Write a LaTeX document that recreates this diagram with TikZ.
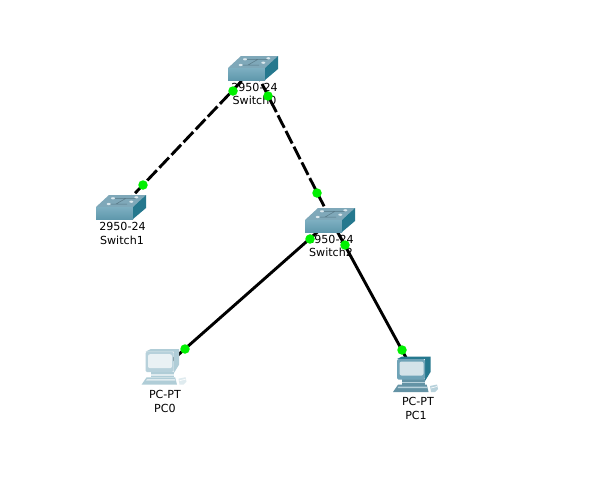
\documentclass[tikz,border=0pt]{standalone}
\usepackage{fontspec}
\setmainfont{DejaVu Sans}
\definecolor{swtop}{HTML}{7FA8B9}
\definecolor{swfronta}{HTML}{7DAFC1}
\definecolor{swfrontb}{HTML}{5F98AC}
\definecolor{swfront}{HTML}{6FA3B7}
\definecolor{swside}{HTML}{25788E}
\definecolor{swled}{HTML}{DCE9EE}
\definecolor{linkgreen}{HTML}{00F000}
\tikzset{
  anchorpt/.style={inner sep=0pt,minimum size=0pt},
  devlabel/.style={font=\fontsize{11.1}{13}\selectfont,text=black,inner sep=0pt,align=center},
  linkline/.style={line width=2.9pt,black},
  linkdash/.style={linkline,dash pattern=on 14pt off 3.6pt},
  portdot/.style={circle,fill=linkgreen,inner sep=0pt,minimum size=9.5pt},
  switchicon/.pic={
    \fill[swtop] (-26,0) -- (-13,-12) -- (24,-12) -- (11,0) -- cycle;
    \shade[top color=swfronta,bottom color=swfrontb] (-26,0) rectangle (11,12);
    \fill[swside] (11,0) -- (24,-12) -- (24,1) -- (11,12) -- cycle;
    \draw[swtop!60!black!70!swfront,line width=.5pt] (-13,-3) -- (5,-3) (-9,-8.7) -- (14,-8.7) (-6,-3) -- (4,-8.7);
    \foreach \p in {(-9,-8.7),(14.3,-9.7),(-13.3,-3),(9.3,-5.3)}
      \fill[swled] \p ellipse (2 and 1.1);
  },
  pcbase/.initial=gray, pcside/.initial=gray, pcframe/.initial=gray, pcscreen/.initial=gray, pclight/.initial=gray,
  pcicon/.pic={
    % mouse
    \fill[\pgfkeysvalueof{/tikz/pclight}] (16,10) -- (23,8.5) -- (24,13) -- (21,16) -- (17,16) -- cycle;
    \draw[white,line width=.6pt] (17,12) -- (23,10.5);
    % desk base
    \fill[\pgfkeysvalueof{/tikz/pcbase}] (-16,8.7) -- (12.7,8.7) -- (14.5,16) -- (-21,16) -- cycle;
    \fill[\pgfkeysvalueof{/tikz/pclight}] (-15.5,10.5) -- (12.5,10.5) -- (13,12) -- (-16.5,12) -- cycle;
    % monitor
    \fill[\pgfkeysvalueof{/tikz/pcside}] (-17,-17) -- (-12,-19.5) -- (16.5,-19.5) -- (16.5,-4) -- (11,5) -- (11,-17) -- cycle;
    \fill[\pgfkeysvalueof{/tikz/pcbase}] (-12,3) rectangle (11,8.7);
    \fill[\pgfkeysvalueof{/tikz/pclight}] (-12,5.5) rectangle (11,6.8);
    \fill[\pgfkeysvalueof{/tikz/pcframe},rounded corners=1.5pt] (-17,-17) rectangle (11,3.5);
    \fill[\pgfkeysvalueof{/tikz/pcscreen},rounded corners=2pt] (-14.5,-14.5) rectangle (9.5,-0.5);
  },
  pcpale/.style={pcbase=white!45!swfront,pcside=white!45!swfront,pcframe=white!50!swfront,pcscreen=white!85!swfront,pclight=white!78!swfront},
  pcdark/.style={pcbase=swfront!90!black,pcside=swside,pcframe=swfront,pcscreen=white!70!swfront,pclight=white!50!swfront},
}
\begin{document}
\begin{tikzpicture}[x=1pt,y=-1pt]
\useasboundingbox[fill=white] (0,0) rectangle (591,480);
% device centres
\node[anchorpt] (sw0) at (254,68) {};
\node[anchorpt] (sw1) at (122,207) {};
\node[anchorpt] (sw2) at (331,220) {};
\node[anchorpt] (pc0) at (161,370) {};
\node[anchorpt] (pc1) at (415.5,375) {};
% labels
\node[devlabel] (l0a) at (254.5,87) {2950-24};
\node[devlabel] (l0b) at (254.5,100) {Switch0};
\node[devlabel] (l1a) at (122.5,226) {2950-24};
\node[devlabel] (l1b) at (122,240) {Switch1};
\node[devlabel] (l2a) at (330.5,239) {2950-24};
\node[devlabel] (l2b) at (331,252) {Switch2};
\node[devlabel] (l3a) at (165,394) {PC-PT};
\node[devlabel] (l3b) at (165,408) {PC0};
\node[devlabel] (l4a) at (418,401) {PC-PT};
\node[devlabel] (l4b) at (416,415) {PC1};
% links
\draw[linkdash] (sw0) -- (sw1);
\draw[linkdash] (sw0) -- (sw2);
\draw[linkline] (sw2) -- (pc0);
\draw[linkline] (sw2) -- (pc1);
% icons
\pic at (254,68) {switchicon};
\pic at (122,207) {switchicon};
\pic at (331,220) {switchicon};
\begin{scope}[pcpale]\pic at (162.5,368.7) {pcicon};\end{scope}
\begin{scope}[pcdark]\pic at (414,376) {pcicon};\end{scope}
% port lights
\node[portdot] (d1) at (233,91) {};
\node[portdot] (d2) at (143,185) {};
\node[portdot] (d3) at (268,96) {};
\node[portdot] (d4) at (317,193) {};
\node[portdot] (d5) at (310,239) {};
\node[portdot] (d6) at (185,349) {};
\node[portdot] (d7) at (345,245) {};
\node[portdot] (d8) at (402,350) {};
\end{tikzpicture}
\end{document}
